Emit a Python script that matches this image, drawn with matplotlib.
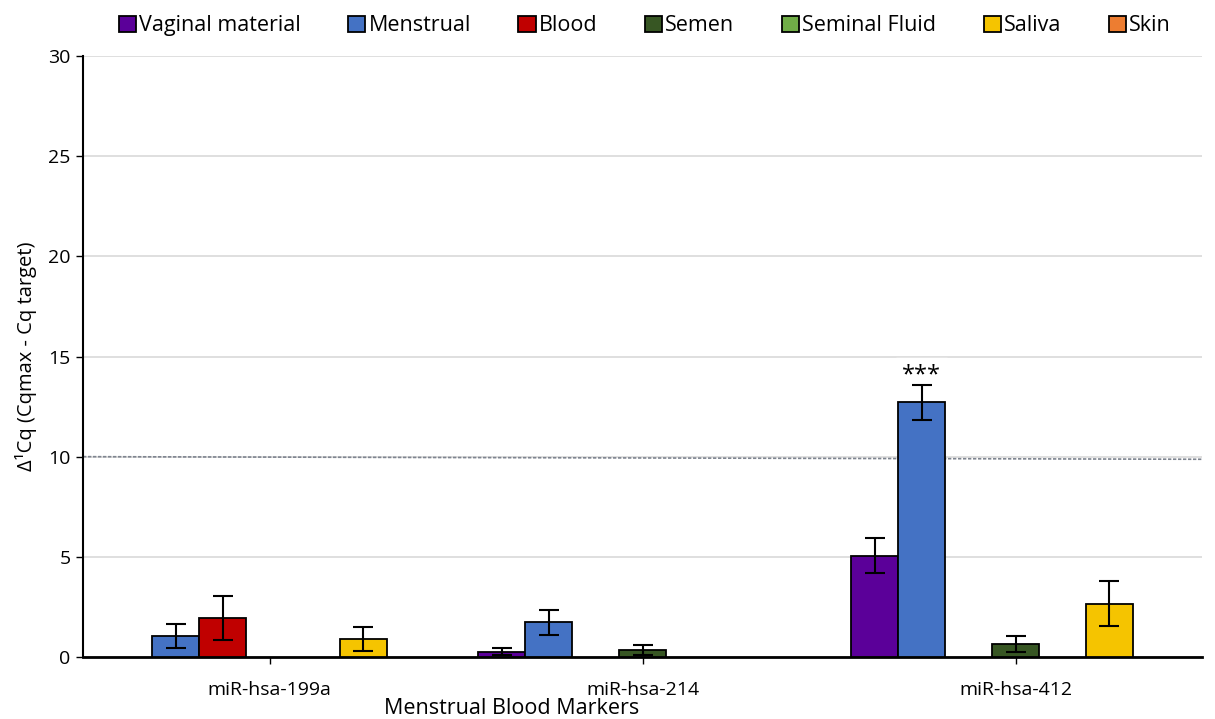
import numpy as np
import matplotlib.pyplot as plt

plt.rcParams['font.family'] = ['Open Sans', 'DejaVu Sans']

markers = ["miR-hsa-199a", "miR-hsa-214", "miR-hsa-412"]
fluids = ["Vaginal material", "Menstrual", "Blood", "Semen",
          "Seminal Fluid", "Saliva", "Skin"]
colors = ["#5B0099", "#4472C4", "#C00000", "#375623",
          "#70AD47", "#F5C400", "#ED7D31"]

nan = np.nan
# mean delta Cq per fluid, one value per marker
means = {
    "Vaginal material": [nan, 0.27, 5.06],
    "Menstrual":        [1.06, 1.73, 12.71],
    "Blood":            [1.93, nan, nan],
    "Semen":            [nan, 0.35, 0.63],
    "Seminal Fluid":    [nan, nan, nan],
    "Saliva":           [0.91, nan, 2.66],
    "Skin":             [nan, nan, nan],
}
errors = {
    "Vaginal material": [0, 0.19, 0.88],
    "Menstrual":        [0.6, 0.63, 0.87],
    "Blood":            [1.1, 0, 0],
    "Semen":            [0, 0.27, 0.4],
    "Seminal Fluid":    [0, 0, 0],
    "Saliva":           [0.6, 0, 1.13],
    "Skin":             [0, 0, 0],
}
threshold = [10.0, 9.87]

fig = plt.figure(figsize=(12.15, 7.19), dpi=100)
ax = fig.add_axes([83/1215, 1-657/719, (1202-83)/1215, (657-56)/719])

x = np.arange(len(markers))
w = 0.126
for i, f in enumerate(fluids):
    off = (i - 3) * w
    ax.bar(x + off, means[f], w, color=colors[i], edgecolor="black",
           linewidth=1.3, label=f, zorder=3)
    vals = np.array(means[f])
    errs = np.array(errors[f])
    ok = ~np.isnan(vals)
    if ok.any():
        ax.errorbar((x + off)[ok], vals[ok], yerr=errs[ok], fmt="none",
                    ecolor="black", elinewidth=1.5, capsize=7, capthick=1.5,
                    zorder=4)

# detection threshold
ax.plot([-0.5, 2.5], threshold, color="#7F8590", linestyle=(0, (2, 1)),
        linewidth=1.2, zorder=2)

ax.text(x[2] - 2 * w, 13.45, "***", ha="center", va="bottom", fontsize=17,
        backgroundcolor="white", zorder=2.5)

ax.set_xlim(-0.5, 2.5)
ax.set_ylim(0, 30)
ax.set_yticks(range(0, 31, 5))
ax.yaxis.grid(True, color="#D9D9D9", linewidth=1.2, zorder=0)
ax.set_axisbelow(True)
ax.spines[["top", "right"]].set_visible(False)
ax.spines["left"].set_linewidth(1.5)
ax.spines["bottom"].set_linewidth(2)
ax.set_xticks(x)
ax.set_xticklabels(markers, fontsize=14)
ax.tick_params(axis="x", length=5, width=1, pad=12)
ax.tick_params(axis="y", length=5, width=1, labelsize=14, pad=4)
ax.set_ylabel("Δ¹Cq (Cqmax - Cq target)", fontsize=14.5, labelpad=8)
ax.set_xlabel("Menstrual Blood Markers", fontsize=15.5)
ax.xaxis.set_label_coords(0.383, -0.068)

leg = ax.legend(loc="upper center", bbox_to_anchor=(0.502, 1.1), ncol=7,
                frameon=False, fontsize=15.5, handlelength=0.8,
                handleheight=0.8, handletextpad=0.15, columnspacing=2.2)

fig.savefig("out.png", dpi=100)
